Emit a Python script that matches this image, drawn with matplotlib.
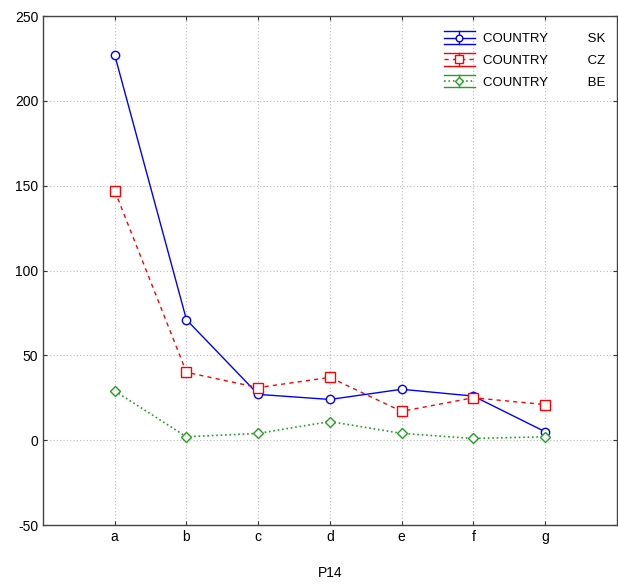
import matplotlib
matplotlib.use("Agg")
import matplotlib.pyplot as plt
from matplotlib.lines import Line2D
from matplotlib.legend_handler import HandlerLine2D

categories = ["a", "b", "c", "d", "e", "f", "g"]
series_names = ["SK", "CZ", "BE"]
sk = [227, 71, 27, 24, 30, 26, 5]
cz = [147, 40, 31, 37, 17, 25, 21]
be = [29, 2, 4, 11, 4, 1, 2]

plt.rcParams["font.family"] = ["Liberation Sans", "DejaVu Sans"]
plt.rcParams["axes.unicode_minus"] = False


class HandlerCapped(HandlerLine2D):
    """Legend icon with a horizontal bar above and below the line."""

    def create_artists(self, legend, orig_handle, xdescent, ydescent,
                       width, height, fontsize, trans):
        artists = super().create_artists(legend, orig_handle, xdescent, ydescent,
                                         width, height, fontsize, trans)
        color = orig_handle.get_color()
        x0, x1 = -xdescent, -xdescent + width
        ymid = height / 2 - ydescent
        off = 4.5
        xm = (x0 + x1) / 2
        extra = [
            Line2D([x0, x1], [ymid + off, ymid + off], color=color, lw=1.0),
            Line2D([x0, x1], [ymid - off, ymid - off], color=color, lw=1.0),
            Line2D([xm, xm], [ymid - off, ymid + off], color=color, lw=1.0),
        ]
        for a in extra:
            a.set_transform(trans)
        return extra + artists


fig = plt.figure(figsize=(6.18, 5.84), dpi=100)
ax = fig.add_axes([0.0696, 0.101, 0.9284, 0.8716])

x = list(range(len(categories)))
l1, = ax.plot(x, sk, "-", color="#0000ff", lw=1.0, marker="o", markersize=6,
              markerfacecolor="white", markeredgecolor="#0000ff", markeredgewidth=1.0)
l2, = ax.plot(x, cz, "--", color="#ff0000", lw=1.0, marker="s", markersize=7,
              markerfacecolor="white", markeredgecolor="#ff0000", markeredgewidth=1.0,
              dashes=(3, 3))
l3, = ax.plot(x, be, ":", color="#22a022", lw=1.2, marker="D", markersize=5.5,
              markerfacecolor="white", markeredgecolor="#22a022", markeredgewidth=1.0)

ax.set_xlim(-1, 7)
ax.set_ylim(-50, 250)
ax.set_xticks(x)
ax.set_xticklabels(categories)
ax.set_yticks([-50, 0, 50, 100, 150, 200, 250])
ax.tick_params(axis="both", labelsize=10, length=3, direction="in",
               top=True, right=True, colors="#333333", labelcolor="black")
ax.grid(True, color="#bbbbbb", linestyle=(0, (1, 2)), lw=0.8)
for s in ax.spines.values():
    s.set_color("#444444")
    s.set_linewidth(1.0)

ax.set_xlabel("P14", fontsize=10, labelpad=16)

labels = ["COUNTRY           " + n for n in series_names]
ax.legend([l1, l2, l3], labels, loc="upper right", frameon=False, fontsize=9.5,
          handlelength=2.3, handletextpad=0.6, labelspacing=0.72,
          markerscale=0.8, bbox_to_anchor=(1.0, 0.99),
          handler_map={Line2D: HandlerCapped()})

fig.savefig("out.png", dpi=100)
